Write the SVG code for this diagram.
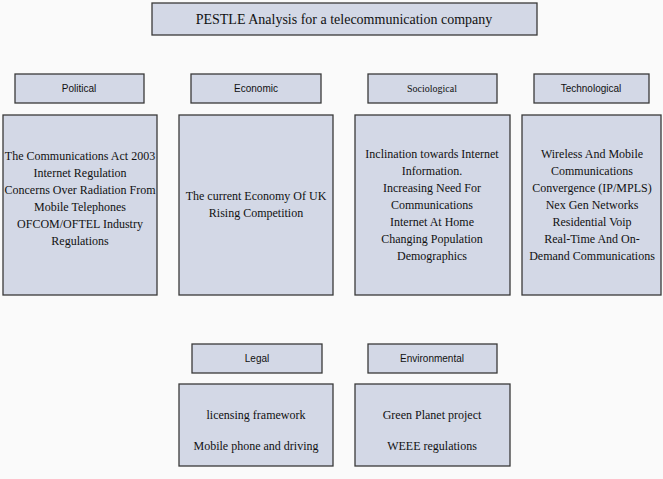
<svg xmlns="http://www.w3.org/2000/svg" width="663" height="479" viewBox="0 0 663 479">
<style>
.b{fill:#d3d8e6;stroke:#3a3a3a;stroke-width:1.3}
.t{font-family:"Liberation Serif",serif;font-size:12px;fill:#111;text-anchor:middle}
.l{font-family:"Liberation Sans",sans-serif;font-size:10px;fill:#111;text-anchor:middle}
</style>
<rect width="663" height="479" fill="#fafafa"/>
<g id="title"><rect class="b" x="152" y="3" width="385" height="32"/><text class="t" x="344" y="24" style="font-size:14px">PESTLE Analysis for a telecommunication company</text></g>
<g id="political-label"><rect class="b" x="15" y="74" width="129" height="29"/><text class="l" x="79" y="92">Political</text></g>
<g id="economic-label"><rect class="b" x="191" y="74" width="130" height="29"/><text class="l" x="256" y="92">Economic</text></g>
<g id="sociological-label"><rect class="b" x="368" y="74" width="129" height="29"/><text class="t" x="432" y="92" style="font-size:10px">Sociological</text></g>
<g id="technological-label"><rect class="b" x="534" y="74" width="115" height="29"/><text class="l" x="591" y="92">Technological</text></g>
<g id="political"><rect class="b" x="3" y="115" width="154" height="180"/>
<text class="t"><tspan x="80" y="160">The Communications Act 2003</tspan><tspan x="80" y="177">Internet Regulation</tspan><tspan x="80" y="194">Concerns Over Radiation From</tspan><tspan x="80" y="211">Mobile Telephones</tspan><tspan x="80" y="228">OFCOM/OFTEL Industry</tspan><tspan x="80" y="245">Regulations</tspan></text></g>
<g id="economic"><rect class="b" x="179" y="115" width="154" height="180"/>
<text class="t"><tspan x="256" y="200">The current Economy Of UK</tspan><tspan x="256" y="217">Rising Competition</tspan></text></g>
<g id="sociological"><rect class="b" x="355" y="115" width="155" height="180"/>
<text class="t"><tspan x="432" y="158">Inclination towards Internet</tspan><tspan x="432" y="175">Information.</tspan><tspan x="432" y="192">Increasing Need For</tspan><tspan x="432" y="209">Communications</tspan><tspan x="432" y="226">Internet At Home</tspan><tspan x="432" y="243">Changing Population</tspan><tspan x="432" y="260">Demographics</tspan></text></g>
<g id="technological"><rect class="b" x="522" y="115" width="139" height="180"/>
<text class="t"><tspan x="592" y="158">Wireless And Mobile</tspan><tspan x="592" y="175">Communications</tspan><tspan x="592" y="192">Convergence (IP/MPLS)</tspan><tspan x="592" y="209">Nex Gen Networks</tspan><tspan x="592" y="226">Residential Voip</tspan><tspan x="592" y="243">Real-Time And On-</tspan><tspan x="592" y="260">Demand Communications</tspan></text></g>
<g id="legal-label"><rect class="b" x="192" y="344" width="130" height="29"/><text class="l" x="257" y="362">Legal</text></g>
<g id="environmental-label"><rect class="b" x="368" y="344" width="129" height="29"/><text class="l" x="432" y="362">Environmental</text></g>
<g id="legal"><rect class="b" x="179" y="384" width="154" height="82"/>
<text class="t"><tspan x="256" y="419">licensing framework</tspan><tspan x="256" y="450">Mobile phone and driving</tspan></text></g>
<g id="environmental"><rect class="b" x="355" y="384" width="155" height="82"/>
<text class="t"><tspan x="432" y="419">Green Planet project</tspan><tspan x="432" y="450">WEEE regulations</tspan></text></g>
<g id="connectors"/>
</svg>
